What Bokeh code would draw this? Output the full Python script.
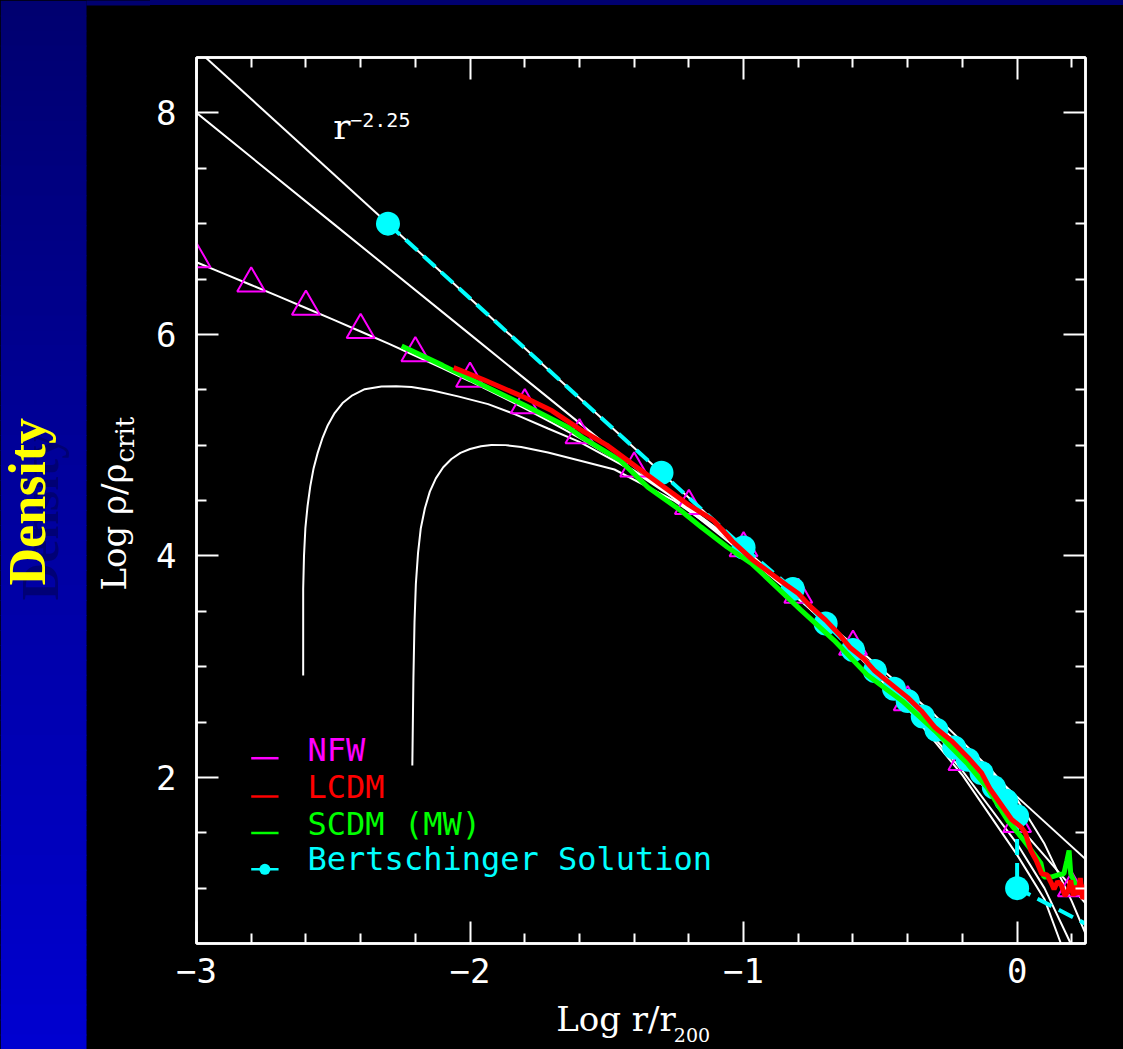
import math
from bokeh.plotting import figure
from bokeh.models import Range1d, LinearAxis, FixedTicker, Label, Spacer
from bokeh.layouts import row, column
from bokeh.core.properties import value
from bokeh.embed import file_html
from bokeh.resources import INLINE

# ---- profile data (log r/r200, log rho/rho_crit) ----
# power law r^-2.25
pl_x = [-3.0, 0.25]
pl_y = [8.575, 1.2625]

# steep inner (r^-2 like) profile
b_x = [-3.0, -2.5, -2.0, -1.5, -1.0, -0.6, -0.3, -0.1, 0.0, 0.1, 0.2, 0.25]
b_y = [8.0, 7.0, 6.0, 5.0, 4.02, 3.2, 2.56, 2.08, 1.80, 1.40, 0.88, 0.59]

# NFW curve
nfw_x = [-3.0, -2.9, -2.8, -2.7, -2.6, -2.5, -2.4, -2.3, -2.2, -2.1, -2.0, -1.9,
         -1.8, -1.7, -1.6, -1.5, -1.4, -1.3, -1.2, -1.1, -1.0, -0.9, -0.8, -0.7,
         -0.6, -0.5, -0.4, -0.3, -0.2, -0.1, 0.0, 0.1, 0.2, 0.25]
nfw_y = [6.651, 6.549, 6.446, 6.343, 6.238, 6.133, 6.026, 5.918, 5.807, 5.694,
         5.577, 5.457, 5.332, 5.202, 5.065, 4.921, 4.769, 4.607, 4.435, 4.252,
         4.058, 3.852, 3.635, 3.407, 3.169, 2.921, 2.665, 2.402, 2.132, 1.857,
         1.577, 1.294, 1.007, 0.862]

# NFW sample points (triangles)
tri_x = [-3.0, -2.8, -2.6, -2.4, -2.2, -2.0, -1.8, -1.6, -1.4, -1.2, -1.0,
         -0.8, -0.6, -0.4, -0.2, 0.0, 0.2]
tri_y = [6.68, 6.46, 6.25, 6.04, 5.83, 5.60, 5.36, 5.09, 4.79, 4.45, 4.07,
         3.65, 3.18, 2.68, 2.14, 1.58, 1.00]

# cored profiles turning over at small radius
t1_x = [-2.61, -2.61, -2.607, -2.602, -2.594, -2.584, -2.572, -2.557, -2.54,
        -2.52, -2.495, -2.466, -2.43, -2.385, -2.324, -2.27, -2.214, -2.141,
        -2.044, -1.934, -1.837, -1.715, -1.6, -1.4, -1.2, -1.0, -0.8, -0.6,
        -0.4, -0.2, 0.0, 0.1, 0.196]
t1_y = [2.92, 3.70, 4.00, 4.25, 4.45, 4.63, 4.79, 4.93, 5.06, 5.18, 5.29,
        5.38, 5.45, 5.505, 5.53, 5.532, 5.525, 5.495, 5.44, 5.37, 5.28, 5.15,
        5.03, 4.76, 4.43, 4.05, 3.63, 3.16, 2.64, 2.06, 1.40, 1.00, 0.50]
t2_x = [-2.211, -2.207, -2.203, -2.198, -2.19, -2.18, -2.165, -2.147, -2.125,
        -2.098, -2.068, -2.035, -2.0, -1.96, -1.922, -1.87, -1.813, -1.715,
        -1.593, -1.472, -1.253, -1.045, -0.8, -0.6, -0.4, -0.2, 0.0, 0.1, 0.16]
t2_y = [2.107, 2.90, 3.40, 3.75, 4.03, 4.25, 4.43, 4.58, 4.70, 4.80, 4.875,
        4.93, 4.965, 4.99, 5.002, 5.0, 4.984, 4.933, 4.857, 4.78, 4.497,
        4.136, 3.62, 3.15, 2.62, 2.02, 1.30, 0.90, 0.50]

# Bertschinger self-similar solution
bert_x = [-2.3, -1.3, -1.0, -0.82, -0.70, -0.60, -0.52, -0.45, -0.40, -0.345,
          -0.295, -0.23, -0.18, -0.13, -0.085, -0.04, 0.0, 0.0, 0.35]
bert_y = [7.0, 4.75, 4.075, 3.70, 3.39, 3.15, 2.96, 2.80, 2.69, 2.55, 2.43,
          2.27, 2.16, 2.04, 1.91, 1.79, 1.65, 1.0, 0.55]

# LCDM simulation
lcdm_x = [-2.06, -1.95, -1.80, -1.70, -1.59, -1.50, -1.39, -1.29, -1.20, -1.11,
          -1.04, -0.97, -0.90, -0.84, -0.80, -0.75, -0.70, -0.65, -0.61, -0.56,
          -0.52, -0.46, -0.40, -0.35, -0.30, -0.24, -0.18, -0.13, -0.10, -0.06,
          -0.02, 0.015, 0.03, 0.05, 0.07, 0.09, 0.11, 0.124, 0.135, 0.148, 0.161,
          0.175, 0.186, 0.196, 0.205, 0.214, 0.222, 0.231, 0.240, 0.248, 0.25]
lcdm_y = [5.70, 5.59, 5.43, 5.31, 5.13, 5.00, 4.80, 4.62, 4.46, 4.32, 4.13,
          3.97, 3.84, 3.73, 3.66, 3.53, 3.42, 3.29, 3.17, 3.07, 2.96, 2.84,
          2.72, 2.60, 2.45, 2.33, 2.18, 2.04, 1.90, 1.76, 1.62, 1.55, 1.50,
          1.34, 1.25, 1.13, 1.12, 1.05, 0.99, 1.06, 1.03, 0.93, 0.97, 1.07,
          0.93, 1.02, 0.94, 1.09, 0.90, 1.03, 0.92]

# SCDM (Milky Way) simulation
scdm_x = [-2.25, -2.10, -1.96, -1.80, -1.64, -1.59, -1.45, -1.35, -1.23, -1.155,
          -1.06, -0.97, -0.88, -0.79, -0.67, -0.55, -0.42, -0.30, -0.18, -0.11,
          -0.034, 0.025, 0.087, 0.098, 0.124, 0.15, 0.171, 0.182, 0.19, 0.196,
          0.21, 0.222, 0.245, 0.25]
scdm_y = [5.895, 5.72, 5.55, 5.36, 5.16, 5.07, 4.86, 4.62, 4.41, 4.26, 4.08,
          3.93, 3.72, 3.51, 3.24, 2.93, 2.69, 2.42, 2.12, 1.91, 1.61, 1.43,
          1.225, 1.10, 1.10, 1.12, 1.13, 1.25, 1.34, 1.13, 1.05, 1.00, 0.95,
          0.94]

x_major = [-3, -2, -1, 0]
x_minor = [-2.8, -2.6, -2.4, -2.2, -1.8, -1.6, -1.4, -1.2, -0.8, -0.6, -0.4,
           -0.2, 0.2]
y_major = [2, 4, 6, 8]
y_minor = [1.0, 1.5, 2.5, 3.0, 3.5, 4.5, 5.0, 5.5, 6.5, 7.0, 7.5]

MAGENTA, RED, GREEN, CYAN = "#ff00ff", "#ff0000", "#00ff00", "#00ffff"
NAVY = "#000070"
MONO = "DejaVu Sans Mono"
SERIF = "DejaVu Serif"

PAGE_H = 1049
SIDE_W = 150      # blue title bar + room for the y-axis title
MAIN_W = 1123 - SIDE_W
BORDER_L, BORDER_R = 46, 38
BORDER_T, BORDER_B = 52, 56
FRAME_H = 886
MAIN_H = BORDER_T + FRAME_H + BORDER_B
BOT_H = PAGE_H - 5 - MAIN_H

x_range = Range1d(-3, 0.25)
y_range = Range1d(0.5, 8.5)


def blank(fig):
    fig.axis.visible = False
    fig.grid.visible = False
    fig.outline_line_color = None


# ---- left side: gradient title bar and y-axis title ----
side = figure(width=SIDE_W, height=PAGE_H, x_range=Range1d(0, SIDE_W),
              y_range=Range1d(0, PAGE_H), output_backend="svg",
              toolbar_location=None, min_border=0,
              background_fill_color="black", border_fill_color="black")
blank(side)
nb = 70
tops, bots, cols = [], [], []
for i in range(nb):
    t = i / (nb - 1)
    b = int(0x70 + (0xd0 - 0x70) * t)
    tops.append(PAGE_H - PAGE_H * i / nb)
    bots.append(PAGE_H - PAGE_H * (i + 1) / nb - 1)
    cols.append("#0000%02x" % b)
side.quad(left=0, right=86, top=tops, bottom=bots, fill_color=cols,
          line_color=None)
side.quad(left=[86], right=[SIDE_W + 1], top=[PAGE_H + 1], bottom=[PAGE_H - 5],
          fill_color=NAVY, line_color=None)
side.text(x=[40], y=[PAGE_H - 600], text=["Density"], angle=math.pi / 2,
          text_font=value("Liberation Serif"), text_font_style="bold",
          text_font_size="52px", text_color="#00006a", text_alpha=0.8,
          text_baseline="alphabetic", text_align="left")
side.text(x=[27], y=[PAGE_H - 585], text=["Density"], angle=math.pi / 2,
          text_font=value("Liberation Serif"), text_font_style="bold",
          text_font_size="52px", text_color="#ffff00",
          text_baseline="alphabetic", text_align="left")
side.text(x=[113], y=[PAGE_H - 590], text=["Log \u03c1/\u03c1"],
          angle=math.pi / 2, text_font=value(SERIF), text_font_size="34px",
          text_color="white", text_baseline="alphabetic", text_align="left")
side.text(x=[124], y=[PAGE_H - 462], text=["crit"], angle=math.pi / 2,
          text_font=value(SERIF), text_font_size="26px", text_color="white",
          text_baseline="alphabetic", text_align="left")

# ---- main density profile plot ----
p = figure(width=MAIN_W, height=MAIN_H, x_range=x_range, y_range=y_range,
           output_backend="svg", toolbar_location=None,
           min_border_left=BORDER_L, min_border_right=BORDER_R,
           min_border_top=BORDER_T, min_border_bottom=BORDER_B,
           background_fill_color="black", border_fill_color="black")
p.grid.visible = False
p.outline_line_color = "white"
p.outline_line_width = 2.5

p.add_layout(LinearAxis(), "right")
p.add_layout(LinearAxis(), "above")
for ax in p.xaxis:
    ax.ticker = FixedTicker(ticks=x_major, minor_ticks=x_minor)
for ax in p.yaxis:
    ax.ticker = FixedTicker(ticks=y_major, minor_ticks=y_minor)
for ax in p.axis:
    ax.axis_line_color = "white"
    ax.axis_line_width = 2.5
    ax.major_tick_line_color = "white"
    ax.minor_tick_line_color = "white"
    ax.major_tick_line_width = 2
    ax.minor_tick_line_width = 2
    ax.major_tick_in = 22
    ax.major_tick_out = 0
    ax.minor_tick_in = 10
    ax.minor_tick_out = 0
    ax.major_label_text_color = "white"
    ax.major_label_text_font = MONO
    ax.major_label_text_font_size = "34px"
for ax in (p.right[0], p.above[0]):
    ax.major_label_text_color = None
    ax.major_label_text_font_size = "1px"
    ax.major_label_standoff = 0
p.below[0].major_label_standoff = 14
p.left[0].major_label_standoff = 20

# model curves
for xs, ys in [(pl_x, pl_y), (b_x, b_y), (nfw_x, nfw_y), (t1_x, t1_y),
               (t2_x, t2_y)]:
    p.line(xs, ys, line_color="white", line_width=2)

p.scatter(tri_x, tri_y, marker="triangle", size=28, fill_color=None,
          line_color=MAGENTA, line_width=2)

p.line(bert_x, bert_y, line_color=CYAN, line_width=4, line_dash="16 8")
p.scatter(bert_x, bert_y, marker="circle", size=24, fill_color=CYAN,
          line_color=None)

p.line(scdm_x, scdm_y, line_color=GREEN, line_width=5)
p.line(lcdm_x, lcdm_y, line_color=RED, line_width=5)

# legend
leg_rows = [(2.173, 2.25, "NFW", MAGENTA), (1.828, 1.91, "LCDM", RED),
            (1.497, 1.578, "SCDM (MW)", GREEN),
            (1.170, 1.26, "Bertschinger Solution", CYAN)]
for ly, ty, txt, col in leg_rows:
    p.segment(x0=[-2.80], y0=[ly], x1=[-2.70], y1=[ly], line_color=col,
              line_width=2.5)
    p.add_layout(Label(x=-2.594, y=ty, text=txt, text_color=col,
                       text_font=MONO, text_font_size="32px",
                       text_baseline="alphabetic"))
p.scatter([-2.75], [1.170], marker="circle", size=11, fill_color=CYAN,
          line_color=None)

# power-law annotation
p.add_layout(Label(x=-2.500, y=7.88, text="r", text_color="white",
                   text_font=SERIF, text_font_size="36px",
                   text_baseline="alphabetic"))
p.add_layout(Label(x=-2.438, y=7.94, text="\u22122.25", text_color="white",
                   text_font=MONO, text_font_size="20px",
                   text_baseline="alphabetic"))

# ---- bottom strip with the x-axis title (frame aligned with the plot) ----
bottom = figure(width=MAIN_W, height=BOT_H, x_range=x_range,
                y_range=Range1d(0, BOT_H), output_backend="svg",
                toolbar_location=None, min_border=0,
                min_border_left=BORDER_L, min_border_right=BORDER_R,
                background_fill_color="black", border_fill_color="black")
blank(bottom)
bottom.text(x=[-1.685], y=[31], text=["Log r/r"],
            text_font=value(SERIF), text_font_size="34px", text_color="white",
            text_baseline="alphabetic", text_align="left")
bottom.text(x=[-1.255], y=[15], text=["200"],
            text_font=value(SERIF), text_font_size="19px", text_color="white",
            text_baseline="alphabetic", text_align="left")

strip = Spacer(width=MAIN_W, height=5, styles={"background-color": NAVY})
layout = row(side, column(strip, p, bottom, spacing=0), spacing=0)

html = file_html(layout, INLINE)
html = html.replace("<head>",
                    "<head><style>html, body { background: #000; margin: 0; }</style>",
                    1)
open("out.html", "w").write(html)
